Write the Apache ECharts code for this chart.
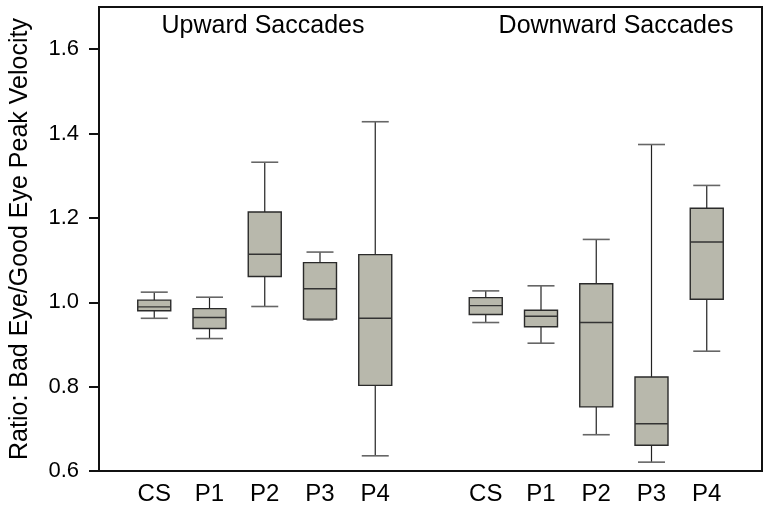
<!DOCTYPE html>
<html>
<head>
<meta charset="utf-8">
<script src="https://cdn.jsdelivr.net/npm/echarts@6/dist/echarts.min.js"></script>
<style>
  html, body { margin: 0; padding: 0; background: #fff; }
  #chart { width: 770px; height: 510px; }
</style>
</head>
<body>
<div id="chart"></div>
<script>
// x slots: empty slot at each end and one between the two groups
const xLabels = ['', 'CS', 'P1', 'P2', 'P3', 'P4', '', 'CS', 'P1', 'P2', 'P3', 'P4', '']
const groups = ['CS', 'P1', 'P2', 'P3', 'P4']
const yTicks = [0.6, 0.8, 1.0, 1.2, 1.4, 1.6]

// [lower whisker, Q1, median, Q3, upper whisker]
const upward = [
  [0.962, 0.980, 0.989, 1.005, 1.024],
  [0.914, 0.938, 0.964, 0.985, 1.012],
  [0.990, 1.061, 1.114, 1.214, 1.332],
  [0.958, 0.960, 1.032, 1.094, 1.119],
  [0.636, 0.803, 0.962, 1.113, 1.428]
]
const downward = [
  [0.952, 0.971, 0.992, 1.011, 1.027],
  [0.903, 0.942, 0.967, 0.981, 1.039],
  [0.686, 0.752, 0.952, 1.044, 1.149],
  [0.621, 0.661, 0.712, 0.823, 1.374],
  [0.884, 1.007, 1.143, 1.223, 1.277]
]

const boxData = []
groups.forEach((g, i) => {
  boxData.push([xLabels.indexOf(g)].concat(upward[i]))
  boxData.push([xLabels.lastIndexOf(g)].concat(downward[i]))
})

const chart = echarts.init(document.getElementById('chart'))

function renderBox(params, api) {
  const x = api.value(0)
  const lo = api.coord([x, api.value(1)])
  const q1 = api.coord([x, api.value(2)])
  const md = api.coord([x, api.value(3)])
  const q3 = api.coord([x, api.value(4)])
  const hi = api.coord([x, api.value(5)])
  const cx = lo[0]
  const bw = 33
  const cw = 27
  const whisker = { stroke: '#222', lineWidth: 1.2 }
  const cap = { stroke: '#666', lineWidth: 1.6 }
  return {
    type: 'group',
    children: [
      { type: 'line', shape: { x1: cx, y1: hi[1], x2: cx, y2: q3[1] }, style: whisker },
      { type: 'line', shape: { x1: cx, y1: q1[1], x2: cx, y2: lo[1] }, style: whisker },
      { type: 'line', shape: { x1: cx - cw / 2, y1: hi[1], x2: cx + cw / 2, y2: hi[1] }, style: cap },
      { type: 'line', shape: { x1: cx - cw / 2, y1: lo[1], x2: cx + cw / 2, y2: lo[1] }, style: cap },
      {
        type: 'rect',
        shape: { x: cx - bw / 2, y: q3[1], width: bw, height: q1[1] - q3[1] },
        style: { fill: '#b8b8ac', stroke: '#2a2a2a', lineWidth: 1.4 }
      },
      { type: 'line', shape: { x1: cx - bw / 2, y1: md[1], x2: cx + bw / 2, y2: md[1] }, style: { stroke: '#333', lineWidth: 1.4 } }
    ]
  }
}

chart.setOption({
  animation: false,
  textStyle: { fontFamily: 'Liberation Sans, Arial, sans-serif' },
  grid: {
    left: 98,
    right: 8,
    top: 7,
    bottom: 39,
    show: true,
    borderColor: '#111',
    borderWidth: 2
  },
  graphic: [
    {
      type: 'text',
      x: 263,
      y: 26,
      style: { text: 'Upward Saccades', font: '25px Liberation Sans', fill: '#000', align: 'center', verticalAlign: 'middle' }
    },
    {
      type: 'text',
      x: 616,
      y: 26,
      style: { text: 'Downward Saccades', font: '25px Liberation Sans', fill: '#000', align: 'center', verticalAlign: 'middle' }
    }
  ],
  xAxis: {
    type: 'category',
    data: xLabels,
    boundaryGap: false,
    axisLine: { lineStyle: { color: '#111', width: 2 } },
    axisTick: { show: false },
    axisLabel: { color: '#000', fontSize: 24, margin: 11, interval: 0 },
    splitLine: { show: false }
  },
  yAxis: {
    type: 'value',
    min: 0.6,
    max: 1.7,
    interval: 0.2,
    name: 'Ratio: Bad Eye/Good Eye Peak Velocity',
    nameLocation: 'middle',
    nameGap: 66,
    nameTextStyle: { color: '#000', fontSize: 25 },
    axisLine: { show: true, lineStyle: { color: '#111', width: 2 } },
    axisTick: { show: true, length: 10, customValues: yTicks, lineStyle: { color: '#111', width: 2 } },
    axisLabel: {
      color: '#000',
      fontSize: 22,
      margin: 20,
      customValues: yTicks,
      formatter: (v) => v.toFixed(1)
    },
    splitLine: { show: false }
  },
  series: [{
    type: 'custom',
    renderItem: renderBox,
    encode: { x: 0, y: [1, 2, 3, 4, 5] },
    data: boxData
  }]
})
</script>
</body>
</html>
